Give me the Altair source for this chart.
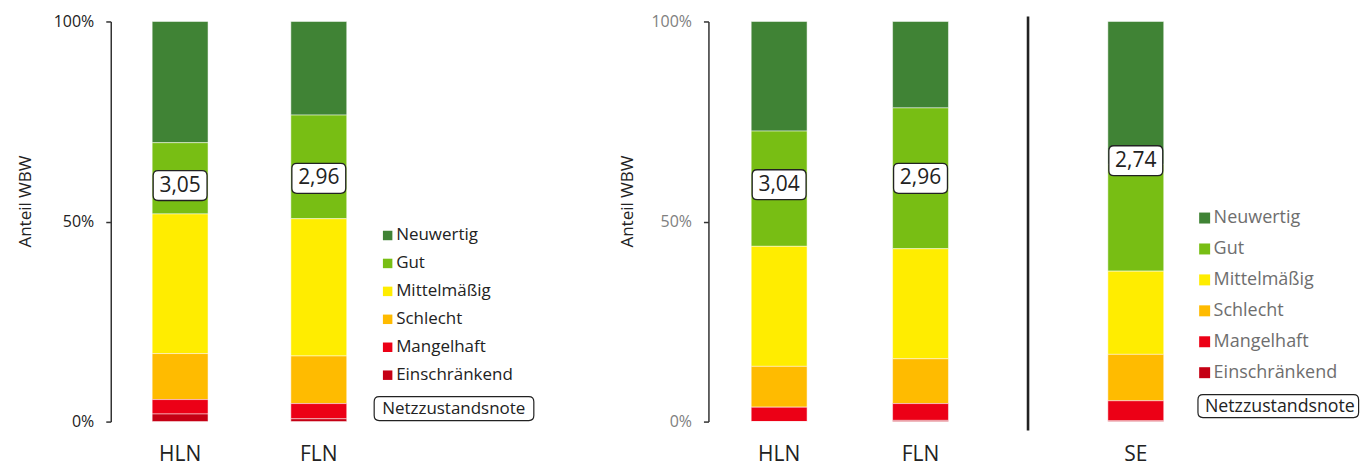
import altair as alt
import pandas as pd

# ---- data ----
grades = ["Neuwertig", "Gut", "Mittelmäßig", "Schlecht", "Mangelhaft", "Einschränkend"]
grade_colors = ["#408335", "#78BE14", "#FFED00", "#FFBB00", "#EC0016", "#C50014"]

left_cats = ["HLN", "FLN"]
left_hln = [30.3, 17.8, 34.9, 11.5, 3.6, 1.9]
left_fln = [23.4, 25.9, 34.3, 11.9, 3.8, 0.7]
left_notes = [3.05, 2.96]

right_cats = ["HLN", "FLN"]
right_hln = [27.4, 28.8, 30.0, 10.2, 3.6, 0.0]
right_fln = [21.6, 35.2, 27.5, 11.2, 4.2, 0.3]
right_notes = [3.04, 2.96]

se_cats = ["SE"]
se_vals = [35.7, 26.7, 20.8, 11.6, 5.0, 0.2]
se_notes = [2.74]

note_name = "Netzzustandsnote"
FONT = "Open Sans"
INK = "#222222"


def box_path(hw, hh, r):
    """Rounded rectangle as a Vega custom symbol path (x spans -1..1)."""
    y = hh / hw
    c = r / hw
    return (f"M {-1 + c} {-y} L {1 - c} {-y} Q 1 {-y} 1 {-y + c} L 1 {y - c} "
            f"Q 1 {y} {1 - c} {y} L {-1 + c} {y} Q -1 {y} -1 {y - c} "
            f"L -1 {-y + c} Q -1 {-y} {-1 + c} {-y} Z")


NOTE_BOX = box_path(27, 15, 5)


def bars_df(cats, series):
    rows = []
    for c, vals in zip(cats, series):
        for i, g in enumerate(grades):
            rows.append({"cat": c, "grade": g, "share": vals[i], "rank": len(grades) - 1 - i})
    return pd.DataFrame(rows)


def notes_df(cats, notes):
    return pd.DataFrame({"cat": cats, "note": notes, "kind": [note_name] * len(cats)})


def xaxis():
    return alt.Axis(title=None, labelAngle=0, labelFontSize=21, labelColor=INK,
                    labelFont=FONT, domain=False, ticks=False, labelPadding=22.5)


def note_key(box_cx, box_cy, hw, hh, text_x, font_size):
    """Boxed 'Netzzustandsnote' key entry under the colour legend."""
    kd = alt.Chart(pd.DataFrame({"kind": [note_name]}))
    box = kd.mark_point(shape=box_path(hw, hh, 5), size=(2 * hw) ** 2, filled=True,
                        fill="white", stroke=INK, strokeWidth=1.2, opacity=1).encode(
        x=alt.value(box_cx), y=alt.value(box_cy))
    txt = kd.mark_text(align="left", baseline="middle", fontSize=font_size, font=FONT,
                       color=INK).encode(x=alt.value(text_x), y=alt.value(box_cy + 0.5),
                                         text="kind:N")
    return [box, txt]


def panel(cats, series, notes, width, y_axis, color_legend, key=None, separator=False):
    xscale = alt.Scale(paddingInner=0.6, paddingOuter=0.3)
    bars = alt.Chart(bars_df(cats, series)).mark_bar(size=56, stroke="#ffffff", strokeWidth=0.5).encode(
        x=alt.X("cat:N", sort=cats, scale=xscale, axis=xaxis()),
        y=alt.Y("share:Q", stack="normalize", scale=alt.Scale(domain=[0, 1], nice=False),
                axis=y_axis),
        color=alt.Color("grade:N", scale=alt.Scale(domain=grades, range=grade_colors),
                        legend=color_legend),
        order=alt.Order("rank:Q"),
    )
    base = alt.Chart(notes_df(cats, notes)).transform_calculate(
        pos="(6 - datum.note) / 5",
        label="replace(format(datum.note, '.2f'), '.', ',')",
    )
    boxes = base.mark_point(shape=NOTE_BOX, filled=True, fill="white", stroke=INK,
                            strokeWidth=1.3, opacity=1, size=2916).encode(
        x=alt.X("cat:N", sort=cats, axis=xaxis()),
        y=alt.Y("pos:Q", axis=y_axis),
    )
    texts = base.mark_text(fontSize=21, font=FONT, color=INK).encode(
        x=alt.X("cat:N", sort=cats, axis=xaxis()),
        y=alt.Y("pos:Q", axis=y_axis),
        text="label:N",
    )
    layers = [bars, boxes, texts]
    if key is not None:
        layers += key
    if separator:
        sep = alt.Chart(pd.DataFrame({"k": [0]})).mark_rule(color=INK, strokeWidth=2.6).encode(
            x=alt.value(0), y=alt.value(-5), y2=alt.value(410))
        layers.append(sep)
    return alt.layer(*layers).properties(width=width, height=401)


def yaxis(label_color, title_pad):
    return alt.Axis(values=[0, 0.5, 1], format=".0%", title="Anteil WBW",
                    labelFont=FONT, labelFontSize=16, labelColor=label_color, labelPadding=12,
                    titleFont=FONT, titleFontSize=17, titleFontWeight="normal", titleColor=INK,
                    titlePadding=title_pad, titleY=180, domainColor="#333333", domainWidth=1.5,
                    tickColor="#333333", tickWidth=1.5, tickSize=5, grid=False)


def color_leg(x, y, size, font_size, row_pad, label_color):
    return alt.Legend(title=None, orient="none", legendX=x, legendY=y, symbolType="square",
                      symbolSize=size, symbolStrokeWidth=0, labelFont=FONT, labelFontSize=font_size,
                      labelColor=label_color, rowPadding=row_pad, labelOffset=0, padding=0)


left = panel(left_cats, [left_hln, left_fln], left_notes, 278, yaxis(INK, 18.6),
             color_leg(269, 206, 90, 17, 10, INK),
             key=note_key(344, 388, 80, 12, 272, 17))
right_a = panel(right_cats, [right_hln, right_fln], right_notes, 283.4, yaxis("#808080", 14),
                None)
right_b = panel(se_cats, [se_vals], se_notes, 216, None,
                color_leg(168, 188, 121, 18, 13, "#6e6e6e"),
                key=note_key(250.8, 385.5, 80.5, 11.5, 177.3, 17.8),
                separator=True)

right = alt.hconcat(right_a, right_b, spacing=36.3, bounds="flush").resolve_scale(
    x="independent", y="independent", color="independent"
).resolve_legend(color="independent")

chart = alt.hconcat(left, right, spacing=321, bounds="flush").resolve_scale(
    x="independent", y="independent", color="independent"
).resolve_legend(color="independent").properties(
    padding={"left": 16, "top": 13, "right": 0, "bottom": 2}
).configure(font=FONT).configure_view(stroke=None)

chart.save("out.html", embed_options={"renderer": "svg", "actions": False})
